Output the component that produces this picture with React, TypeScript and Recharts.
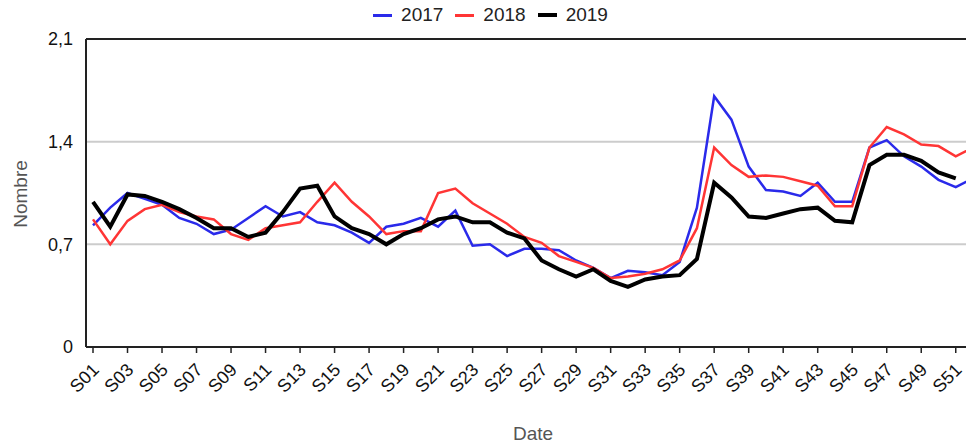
import React from 'react';
import { LineChart, Line, XAxis, YAxis, CartesianGrid, ReferenceLine, Legend } from 'recharts';

const weeks: string[] = Array.from({ length: 52 }, (_, i) => 'S' + String(i + 1).padStart(2, '0'));

const y2017: number[] = [0.83, 0.95, 1.05, 1.01, 0.97, 0.88, 0.84, 0.77, 0.80, 0.88,
  0.96, 0.89, 0.92, 0.85, 0.83, 0.78, 0.71, 0.82, 0.84, 0.88,
  0.82, 0.93, 0.69, 0.70, 0.62, 0.67, 0.67, 0.66, 0.59, 0.54,
  0.47, 0.52, 0.51, 0.49, 0.58, 0.95, 1.71, 1.55, 1.23, 1.07,
  1.06, 1.03, 1.12, 0.99, 0.99, 1.36, 1.41, 1.30, 1.23, 1.14, 1.09, 1.15];

const y2018: number[] = [0.87, 0.70, 0.86, 0.94, 0.97, 0.92, 0.89, 0.87, 0.77, 0.73,
  0.81, 0.83, 0.85, 0.99, 1.12, 0.99, 0.89, 0.77, 0.79, 0.79,
  1.05, 1.08, 0.98, 0.91, 0.84, 0.75, 0.71, 0.62, 0.58, 0.54,
  0.47, 0.48, 0.50, 0.53, 0.59, 0.81, 1.36, 1.24, 1.16, 1.17,
  1.16, 1.13, 1.10, 0.96, 0.96, 1.36, 1.50, 1.45, 1.38, 1.37, 1.30, 1.36];

const y2019: (number | null)[] = [0.99, 0.82, 1.04, 1.03, 0.99, 0.94, 0.88, 0.81, 0.81, 0.75,
  0.78, 0.92, 1.08, 1.10, 0.89, 0.81, 0.77, 0.70, 0.77, 0.81,
  0.87, 0.89, 0.85, 0.85, 0.78, 0.74, 0.59, 0.53, 0.48, 0.53,
  0.45, 0.41, 0.46, 0.48, 0.49, 0.60, 1.12, 1.02, 0.89, 0.88,
  0.91, 0.94, 0.95, 0.86, 0.85, 1.24, 1.31, 1.31, 1.27, 1.19, 1.15, null];

const yTicks: number[] = [0, 0.7, 1.4, 2.1];

const seriesNames = ['2017', '2018', '2019'];
const seriesColors = ['#2a2aea', '#ff3535', '#000000'];
const seriesWidths = [2.5, 2.5, 4];

const data = weeks.map((w, i) => ({ week: w, a: y2017[i], b: y2018[i], c: y2019[i] }));

const FONT = '"Liberation Sans", Arial, sans-serif';

const XTick = (props: any) => {
  const { x, y, payload } = props;
  const px = x + 7;
  const py = y + 16;
  return (
    <text x={px} y={py} transform={`rotate(-45 ${px} ${py})`} textAnchor="end"
      fontSize={18} fontFamily={FONT} fill="#111">{payload.value}</text>
  );
};

const LegendContent = () => (
  <div style={{ display: 'flex', justifyContent: 'center', alignItems: 'center', height: 16, marginTop: -1, fontFamily: FONT, fontSize: 19, color: '#222' }}>
    {seriesNames.map((n, i) => (
      <div key={n} style={{ display: 'flex', alignItems: 'center', marginRight: i < 2 ? 12 : 0 }}>
        <div style={{ width: 19, height: i === 2 ? 4 : 3, background: seriesColors[i], marginRight: 9 }} />
        <span style={{ lineHeight: '16px' }}>{n}</span>
      </div>
    ))}
  </div>
);

export default function App() {
  return (
    <div style={{ width: 966, height: 437 }}>
      <LineChart width={966} height={437} data={data} margin={{ top: 0, right: 1, left: 0, bottom: 0 }}>
        <Legend verticalAlign="top" align="center" height={31} content={<LegendContent />} />
        <CartesianGrid vertical={false} stroke="#cccccc" strokeWidth={2} />
        <ReferenceLine y={2.1} stroke="#222" strokeWidth={2} />
        <XAxis dataKey="week" interval={1} padding={{ left: 7, right: 0 }} height={98}
          tick={<XTick />} tickSize={6} tickLine={{ stroke: '#222', strokeWidth: 1.5 }}
          axisLine={{ stroke: '#222', strokeWidth: 2 }}
          label={(p: any) => (
            <text x={525} y={425} textAnchor="middle" dominantBaseline="central" fontSize={19} fontFamily={FONT} fill="#555">Date</text>
          )} />
        <YAxis domain={[0, 2.1]} ticks={yTicks} width={78} tickLine={false} tickMargin={7}
          axisLine={{ stroke: '#222', strokeWidth: 2 }}
          tick={{ fontSize: 18, fontFamily: FONT, fill: '#111' }}
          tickFormatter={(v: number) => String(v).replace('.', ',')}
          label={(p: any) => (
            <text x={12} y={186} transform="rotate(-90 12 186)" textAnchor="middle" dominantBaseline="central" fontSize={19} fontFamily={FONT} fill="#555">Nombre</text>
          )} />
        <Line dataKey="a" name="2017" stroke={seriesColors[0]} strokeWidth={seriesWidths[0]} dot={false} isAnimationActive={false} />
        <Line dataKey="b" name="2018" stroke={seriesColors[1]} strokeWidth={seriesWidths[1]} dot={false} isAnimationActive={false} />
        <Line dataKey="c" name="2019" stroke={seriesColors[2]} strokeWidth={seriesWidths[2]} dot={false} isAnimationActive={false} />
      </LineChart>
    </div>
  );
}
